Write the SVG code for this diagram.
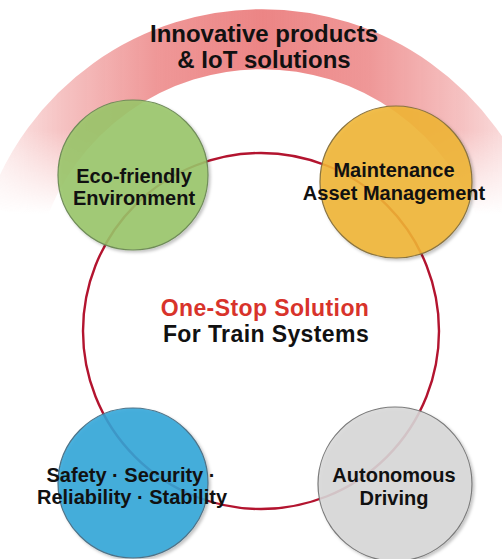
<svg xmlns="http://www.w3.org/2000/svg" width="502" height="559" viewBox="0 0 502 559">
  <defs>
    <linearGradient id="bandFade" gradientUnits="userSpaceOnUse" x1="0" y1="0" x2="526" y2="0">
      <stop offset="0" stop-color="#ec8585" stop-opacity="0.2"/>
      <stop offset="0.12" stop-color="#ec8585" stop-opacity="0.5"/>
      <stop offset="0.3" stop-color="#ec8585" stop-opacity="0.85"/>
      <stop offset="0.5" stop-color="#ec8585" stop-opacity="1"/>
      <stop offset="0.7" stop-color="#ec8585" stop-opacity="0.85"/>
      <stop offset="0.88" stop-color="#ec8585" stop-opacity="0.5"/>
      <stop offset="1" stop-color="#ec8585" stop-opacity="0.2"/>
    </linearGradient>
    <linearGradient id="bandDrop" gradientUnits="userSpaceOnUse" x1="0" y1="130" x2="0" y2="214">
      <stop offset="0" stop-color="#fff"/>
      <stop offset="1" stop-color="#000"/>
    </linearGradient>
    <mask id="bandMask" maskUnits="userSpaceOnUse" x="0" y="0" width="502" height="260">
      <rect x="0" y="0" width="502" height="260" fill="url(#bandDrop)"/>
    </mask>
    <filter id="shadow" x="-20%" y="-20%" width="140%" height="140%">
      <feDropShadow dx="2" dy="2" stdDeviation="1.5" flood-color="#000" flood-opacity="0.25"/>
    </filter>
  </defs>
  <style>
    .label { font-family: "Liberation Sans", Arial, sans-serif; font-weight: bold; text-anchor: middle; fill: #111; }
    .node circle { stroke-width: 1.2; fill-opacity: 0.88; filter: url(#shadow); }
    .ring { fill: none; stroke: #b3142f; stroke-width: 2.4; }
  </style>

  <rect width="502" height="559" fill="#fff"/>

  <!-- outer band -->
  <g id="band">
    <path d="M 16 215 A 260 260 0 0 1 508 215" fill="none" stroke="url(#bandFade)" stroke-width="60" mask="url(#bandMask)"/>
    <text class="label" x="264" y="42" font-size="24">Innovative products</text>
    <text class="label" x="264" y="68" font-size="24">&amp; IoT solutions</text>
  </g>

  <!-- ring joining the four nodes -->
  <g id="connectors">
    <circle class="ring" cx="261" cy="331" r="178"/>
  </g>

  <g id="center">
    <text class="label" x="265" y="316" font-size="23" letter-spacing="0.4" style="fill:#d8332b">One-Stop Solution</text>
    <text class="label" x="266" y="342" font-size="23" letter-spacing="0.4">For Train Systems</text>
  </g>

  <g id="eco" class="node">
    <circle cx="133" cy="175" r="75" fill="#9ac66a" stroke="#6f8c58"/>
    <text class="label" x="134" y="183" font-size="20">Eco-friendly</text>
    <text class="label" x="134" y="205" font-size="20">Environment</text>
  </g>

  <g id="maintenance" class="node">
    <circle cx="396" cy="182" r="76" fill="#f0b534" stroke="#8a7440"/>
    <text class="label" x="394" y="177" font-size="20">Maintenance</text>
    <text class="label" x="394" y="200" font-size="20">Asset Management</text>
  </g>

  <g id="safety" class="node">
    <circle cx="133" cy="483" r="75" fill="#33a6da" stroke="#4d7388"/>
    <text class="label" x="131" y="482" font-size="20">Safety · Security ·</text>
    <text class="label" x="132" y="504" font-size="20">Reliability · Stability</text>
  </g>

  <g id="autonomous" class="node">
    <circle cx="395" cy="484" r="77" fill="#d8d8d8" stroke="#7a7a7a"/>
    <text class="label" x="394" y="482" font-size="20">Autonomous</text>
    <text class="label" x="394" y="505" font-size="20">Driving</text>
  </g>
</svg>
